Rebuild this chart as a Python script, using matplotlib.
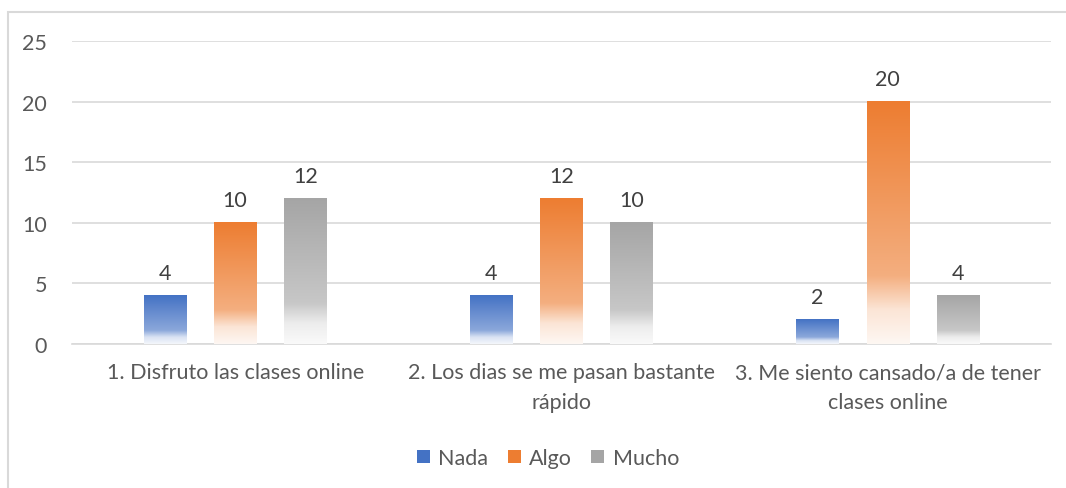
import matplotlib.pyplot as plt
import matplotlib.patches as mpatches
from matplotlib.colors import to_rgb
import numpy as np

plt.rcParams['font.family'] = ['Lato', 'DejaVu Sans']

# Datos
categorias = ["1. Disfruto las clases online",
              "2. Los dias se me pasan bastante\nrápido",
              "3. Me siento cansado/a de tener\nclases online"]
series = ["Nada", "Algo", "Mucho"]
nada = [4, 4, 2]
algo = [10, 12, 20]
mucho = [12, 10, 4]
colores = ["#4472C4", "#ED7D31", "#A5A5A5"]
texto = "#595959"
fs = 15.5

W, H, DPI = 1066, 489, 100
fig = plt.figure(figsize=(W / DPI, H / DPI), dpi=DPI)
ax = fig.add_axes([72 / W, 144 / H, (1051 - 72) / W, (447 - 144) / H])

# borde del gráfico (recortado por la derecha y abajo como en la captura)
fig.patches.append(mpatches.Rectangle((8 / W, -0.01), 1.02, (489 - 13) / H + 0.01,
                                      transform=fig.transFigure, fill=False,
                                      edgecolor="#d9d9d9", linewidth=1.5))


def degradado(color, n=256):
    # t = 0 arriba, t = 1 abajo
    t = np.linspace(0, 1, n)
    w = np.interp(t, [0, 0.72, 0.86, 1.0], [1.0, 0.62, 0.2, 0.06])
    c = np.array(to_rgb(color))
    img = w[:, None] * c[None, :] + (1 - w[:, None]) * np.ones(3)[None, :]
    return img[:, None, :]


x = np.arange(len(categorias))
ancho = 0.13
desp = 0.215
for i, (vals, col) in enumerate(zip([nada, algo, mucho], colores)):
    pos = x + (i - 1) * desp
    barras = ax.bar(pos, vals, ancho, color=col, label=series[i], zorder=2)
    for b, v in zip(barras, vals):
        b.set_visible(False)
        x0 = b.get_x()
        ax.imshow(degradado(col), extent=[x0, x0 + ancho, 0, v], aspect="auto",
                  zorder=3, interpolation="bilinear")
        ax.annotate(str(v), (b.get_x() + ancho / 2, v), xytext=(0, 9),
                    textcoords="offset points", ha="center", va="bottom",
                    fontsize=fs, color="#404040")

ax.set_xlim(-0.5, 2.5)
ax.set_ylim(0, 25)
ax.set_yticks(np.arange(0, 26, 5))
ax.grid(axis="y", color="#d9d9d9", linewidth=1.2, zorder=0)
ax.set_axisbelow(True)
for s in ["top", "right", "left"]:
    ax.spines[s].set_visible(False)
ax.spines["bottom"].set_color("#d9d9d9")
ax.spines["bottom"].set_linewidth(1.2)
ax.set_xticks(x)
ax.set_xticklabels(categorias, fontsize=fs, color=texto, linespacing=1.6)
ax.tick_params(axis="x", length=0, pad=13)
ax.tick_params(axis="y", length=0, pad=18, labelsize=fs, labelcolor=texto)

handles = [mpatches.Patch(facecolor=c, edgecolor="none") for c in colores]
fig.legend(handles, series, loc="center", bbox_to_anchor=(548 / W, 1 - 459 / H),
           ncol=3, frameon=False, fontsize=fs, labelcolor=texto,
           handlelength=0.6, handleheight=0.6, handletextpad=0.4, columnspacing=0.9)

fig.savefig("out.png", dpi=DPI)
